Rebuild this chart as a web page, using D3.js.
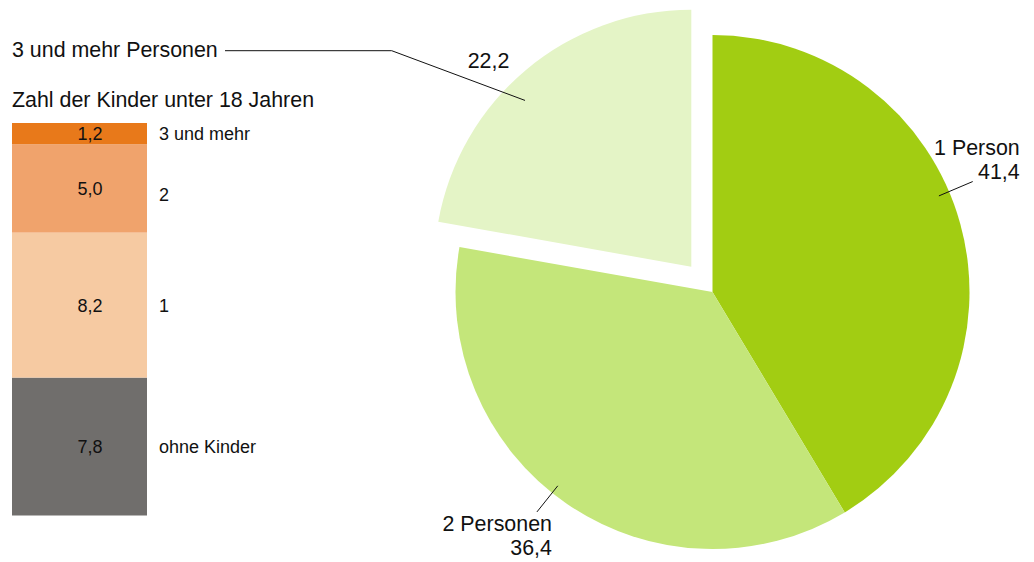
<!DOCTYPE html>
<html lang="de">
<head>
<meta charset="utf-8">
<script src="https://cdn.jsdelivr.net/npm/d3@7"></script>
<style>
	body { margin: 0; background: #fff; }
	text { font-family: "Liberation Sans", Arial, sans-serif; fill: #111; }
</style>
</head>
<body>
<div class="c-svg"></div>
<script>
//DATA
//-------------------------------------------------------------------------

//pie: households by size
const pieNames = ["1 Person", "2 Personen", "3 und mehr Personen"];
const pieValues = [41.4, 36.4, 22.2];
const pieLabels = ["41,4", "36,4", "22,2"];
const pieColors = ["#a2cd12", "#c4e67a", "#e4f4c6"];

//stacked bar: number of children (bottom to top)
const barNames = ["ohne Kinder", "1", "2", "3 und mehr"];
const barValues = [7.8, 8.2, 5.0, 1.2];
const barLabels = ["7,8", "8,2", "5,0", "1,2"];
const barColors = ["#706e6c", "#f6caa2", "#f0a36c", "#e8791a"];

const barTitle = "Zahl der Kinder unter 18 Jahren";


//OPTS
//-------------------------------------------------------------------------
const opts = {
	width: 1034,
	height: 562,
	font: 21.4,
	smallFont: 18,
	pie: { cx: 712.5, cy: 292, r: 257, explode: 33 },
	bar: { x0: 12, x1: 147, top: 123, bottom: 515.5 }
};

const svg = d3.select(".c-svg")
	.append("svg")
	.attr("width", opts.width)
	.attr("height", opts.height);


//PIE
//-------------------------------------------------------------------------
const pie = d3.pie().sort(null).value(d => d)(pieValues);
const arc = d3.arc().innerRadius(0).outerRadius(opts.pie.r);

const gPie = svg.append("g")
	.attr("transform", `translate(${opts.pie.cx} ${opts.pie.cy})`);

//polar helper (d3 angle: 0 at top, clockwise)
const polar = (a, r) => [Math.sin(a) * r, -Math.cos(a) * r];

//offset of each slice (only the last one is pulled out)
const shift = pie.map((d, i) => i === 2 ? polar((d.startAngle + d.endAngle) / 2, opts.pie.explode) : [0, 0]);

gPie.selectAll(".slice")
	.data(pie)
	.join("path")
	.attr("class", "slice")
	.attr("transform", (d, i) => `translate(${shift[i][0]} ${shift[i][1]})`)
	.attr("d", arc)
	.attr("fill", (d, i) => pieColors[i]);

//leader lines + labels
const deg = Math.PI / 180;
const r = opts.pie.r;

//1 Person
{
	const a = 67 * deg;
	const p0 = polar(a, r * 0.957), p1 = polar(a, r * 1.1);
	gPie.append("line")
		.attr("x1", p0[0]).attr("y1", p0[1]).attr("x2", p1[0]).attr("y2", p1[1])
		.attr("stroke", "#111").attr("stroke-width", 1);
	const t = gPie.append("text").attr("text-anchor", "end").attr("font-size", opts.font);
	t.append("tspan").attr("x", p1[0] + 47).attr("y", p1[1] - 27).text(pieNames[0]);
	t.append("tspan").attr("x", p1[0] + 47).attr("y", p1[1] - 3).text(pieLabels[0]);
}

//2 Personen
{
	const a = 218.6 * deg;
	const p0 = polar(a, r * 0.965), p1 = polar(a, r * 1.095);
	gPie.append("line")
		.attr("x1", p0[0]).attr("y1", p0[1]).attr("x2", p1[0]).attr("y2", p1[1])
		.attr("stroke", "#111").attr("stroke-width", 1);
	const t = gPie.append("text").attr("text-anchor", "end").attr("font-size", opts.font);
	t.append("tspan").attr("x", p1[0] + 15).attr("y", p1[1] + 19).text(pieNames[1]);
	t.append("tspan").attr("x", p1[0] + 15).attr("y", p1[1] + 43).text(pieLabels[1]);
}

//3 und mehr Personen (exploded slice)
{
	const s = shift[2];
	const a = 315 * deg;
	const p0 = polar(a, r * 0.915);
	const elbow = [-320.8, -241.3];   //knee of the leader, relative to pie center
	const endX = 225 - opts.pie.cx;
	gPie.append("polyline")
		.attr("points", [[p0[0] + s[0], p0[1] + s[1]], elbow, [endX, elbow[1]]].map(p => p.join(",")).join(" "))
		.attr("fill", "none")
		.attr("stroke", "#111").attr("stroke-width", 1);

	const pl = polar(315.6 * deg, r * 1.128);
	gPie.append("text")
		.attr("x", pl[0] + s[0])
		.attr("y", pl[1] + s[1] + 8)
		.attr("text-anchor", "middle")
		.attr("font-size", opts.font)
		.text(pieLabels[2]);

	gPie.append("text")
		.attr("x", 12 - opts.pie.cx)
		.attr("y", elbow[1] + 6.5)
		.attr("font-size", opts.font)
		.text(pieNames[2]);
}


//STACKED BAR
//-------------------------------------------------------------------------
const total = d3.sum(barValues);
const y = d3.scaleLinear()
	.domain([0, total])
	.range([opts.bar.bottom, opts.bar.top]);

//cumulative stack
const stack = barValues.map((v, i) => {
	const start = d3.sum(barValues.slice(0, i));
	return { name: barNames[i], label: barLabels[i], y0: start, y1: start + v, color: barColors[i] };
});

const gBar = svg.append("g");

gBar.append("text")
	.attr("x", opts.bar.x0)
	.attr("y", 106.5)
	.attr("font-size", opts.font)
	.text(barTitle);

gBar.selectAll(".seg")
	.data(stack)
	.join("rect")
	.attr("class", "seg")
	.attr("x", opts.bar.x0)
	.attr("width", opts.bar.x1 - opts.bar.x0)
	.attr("y", d => y(d.y1))
	.attr("height", d => y(d.y0) - y(d.y1))
	.attr("fill", d => d.color);

gBar.selectAll(".seg-value")
	.data(stack)
	.join("text")
	.attr("class", "seg-value")
	.attr("x", 90)
	.attr("y", d => (y(d.y0) + y(d.y1)) / 2 + 6.5)
	.attr("text-anchor", "middle")
	.attr("font-size", opts.smallFont)
	.text(d => d.label);

//category names sit next to the segments ("2" a bit lower, as in the original)
gBar.selectAll(".seg-name")
	.data(stack)
	.join("text")
	.attr("class", "seg-name")
	.attr("x", 159)
	.attr("y", d => (y(d.y0) + y(d.y1)) / 2 + 6.5 + (d.name === "2" ? 6 : 0))
	.attr("font-size", opts.smallFont)
	.text(d => d.name);
</script>
</body>
</html>
